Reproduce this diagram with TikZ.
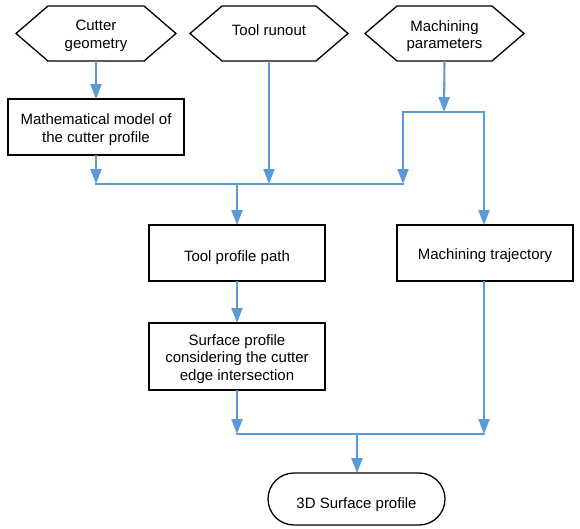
\documentclass[tikz,border=0pt]{standalone}
\usepackage{fontspec}
\setmainfont{Liberation Sans}
\usetikzlibrary{arrows.meta,calc}
\definecolor{flowblue}{RGB}{91,155,213}
\begin{document}
\begin{tikzpicture}[x=1pt,y=-1pt,
 every node/.style={font=\fontsize{15}{17.5}\selectfont, align=center, inner sep=0pt, outer sep=0pt},
 txt/.style={yshift=-2.5pt},
 hexnode/.style={minimum height=55pt},
 hexline/.style={draw=black, line width=1.3pt, line join=miter},
 boxnode/.style={draw=black, line width=1.3pt, minimum width=176pt, minimum height=56pt},
 termnode/.style={draw=black, line width=1.3pt, rounded corners=26pt, minimum width=177pt, minimum height=52pt},
 flow/.style={draw=flowblue, line width=2.1pt, line cap=rect},
 arr/.style={draw=flowblue, line width=2.1pt, -{Triangle[length=15pt,width=11pt]}},
 ]
\useasboundingbox (0,0) rectangle (580,528);
% hexagon inputs
\node[hexnode, minimum width=160pt] (cg) at (96,33.5) {};
\node[hexnode, minimum width=158pt] (tr) at (269,33.5) {};
\node[hexnode, minimum width=159pt] (mp) at (444.5,33.5) {};
\foreach \h in {cg,tr,mp}{
  \draw[hexline] (\h.west) -- ([xshift=32pt]\h.north west) -- ([xshift=-32pt]\h.north east)
     -- (\h.east) -- ([xshift=-32pt]\h.south east) -- ([xshift=32pt]\h.south west) -- cycle;
}
\node[txt] (cgt) at (cg.center) {Cutter\\geometry};
\node[txt] (trt) at (269,27.5) {Tool runout};
\node[txt] (mpt) at (mp.center) {Machining\\parameters};
% boxes
\node[boxnode] (mm) at (96,127) {};
\node[boxnode] (tpp) at (237,253) {};
\node[boxnode] (mt) at (485,253) {};
\node[boxnode, minimum height=67pt] (sp) at (237,356.5) {};
\node[termnode] (sp3) at (356.5,499) {};
\node[txt] (mmt) at (mm.center) {Mathematical model of\\the cutter profile};
\node[txt] (tppt) at (237,255) {Tool profile path};
\node[txt] (mtt) at (mt.center) {Machining trajectory};
\node[txt] (spt) at (sp.center) {Surface profile\\considering the cutter\\edge intersection};
\node[txt] (sp3t) at (356.5,502) {3D Surface profile};
% junction coordinates
\coordinate (j1) at (96,184);
\coordinate (j2) at (237,184);
\coordinate (j3) at (269,184);
\coordinate (j4) at (403,184);
\coordinate (k0) at (444,112);
\coordinate (k1) at (403,112);
\coordinate (k2) at (484,112);
\coordinate (m1) at (237,434);
\coordinate (m2) at (484,434);
\coordinate (m3) at (357,434);
% connectors
\draw[arr] (cg.south) -- (mm.north);
\draw[arr] (mm.south) -- (j1);
\draw[arr] (tr.south) -- (j3);
\draw[arr] (mp.south) -- (k0);
\draw[flow] (k1) -- (k2);
\draw[arr] (k1) -- (j4);
\draw[arr] (k2) -- (k2 |- mt.north);
\draw[flow] (j1) -- (j4);
\draw[arr] (j2) -- (tpp.north);
\draw[arr] (tpp.south) -- (sp.north);
\draw[arr] (sp.south) -- (m1);
\draw[arr] (mt.south -| m2) -- (m2);
\draw[flow] (m1) -- (m2);
\draw[arr] (m3) -- (sp3.north -| m3);
\end{tikzpicture}
\end{document}
